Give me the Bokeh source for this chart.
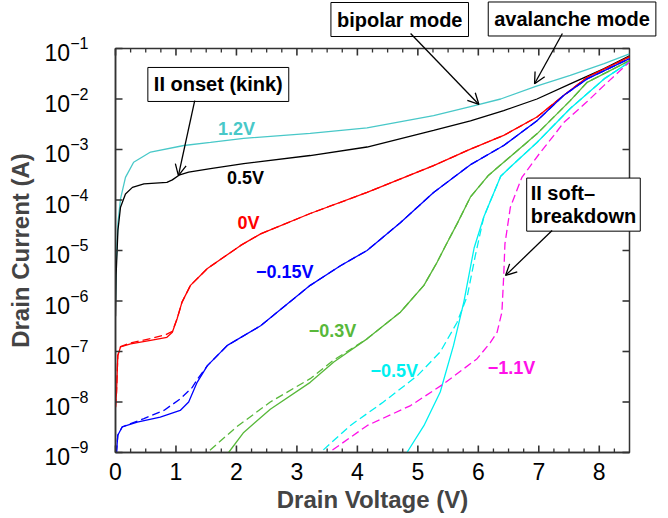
import math
from bokeh.plotting import figure
from bokeh.models import (Range1d, FixedTicker, SingleIntervalTicker, Label, Arrow, OpenHead)
from bokeh.embed import file_html
from bokeh.resources import INLINE

# ---------------- data (drain voltage V, drain current A) ----------------
# Vg = 1.2 V (solid)
vd_12 = [0.0, 0.01, 0.04, 0.083, 0.165, 0.30, 0.58, 1.13, 1.57, 2.12, 3.22, 4.16, 5.26, 5.87, 6.37, 6.95, 7.52, 8.08, 8.5]
id_12 = [1.0e-6, 4.7e-6, 3.4e-5, 1.05e-4, 2.8e-4, 5.6e-4, 8.9e-4, 1.2e-3, 1.38e-3, 1.66e-3, 2.09e-3, 2.69e-3, 4.68e-3, 7.1e-3, 1.0e-2, 1.78e-2, 2.95e-2, 5.0e-2, 7.8e-2]

# Vg = 0.5 V (solid)
vd_05 = [0.0, 0.01, 0.04, 0.083, 0.165, 0.28, 0.47, 0.85, 0.94, 1.05, 1.21, 1.57, 2.12, 3.22, 4.16, 5.26, 5.87, 6.42, 6.97, 7.52, 8.08, 8.5]
id_05 = [5.0e-7, 3.2e-6, 2.5e-5, 7.2e-5, 1.32e-4, 1.78e-4, 2.09e-4, 2.24e-4, 2.5e-4, 3.1e-4, 3.55e-4, 4.2e-4, 5.25e-4, 7.6e-4, 1.12e-3, 2.4e-3, 3.7e-3, 5.9e-3, 1.0e-2, 2.0e-2, 4.0e-2, 7.2e-2]

# Vg = 0 V (solid and dashed)
vd_00 = [0.0, 0.017, 0.038, 0.083, 0.25, 0.58, 0.85, 0.94, 1.02, 1.10, 1.24, 1.52, 2.07, 2.40, 3.22, 4.16, 5.26, 5.87, 6.42, 6.97, 7.41, 7.80, 8.5]
id_00 = [7.9e-9, 1.58e-8, 8.3e-8, 1.23e-7, 1.41e-7, 1.66e-7, 1.91e-7, 2.4e-7, 4.5e-7, 9.5e-7, 2.04e-6, 4.4e-6, 1.26e-5, 2.14e-5, 5.4e-5, 1.41e-4, 4.8e-4, 1.02e-3, 1.9e-3, 4.4e-3, 1.17e-2, 2.7e-2, 6.8e-2]
vd_00d = [0.0, 0.017, 0.038, 0.083, 0.25, 0.58, 0.83, 0.94, 1.02, 1.10, 1.24, 1.52, 2.07, 2.40, 3.22, 4.16, 5.26, 5.87, 6.42, 6.97, 7.41, 7.80, 8.5]
id_00d = [7.9e-9, 1.58e-8, 8.3e-8, 1.25e-7, 1.48e-7, 1.8e-7, 2.15e-7, 2.5e-7, 4.5e-7, 9.5e-7, 2.04e-6, 4.4e-6, 1.26e-5, 2.14e-5, 5.4e-5, 1.41e-4, 4.8e-4, 1.02e-3, 1.9e-3, 4.4e-3, 1.17e-2, 2.7e-2, 6.8e-2]

# Vg = -0.15 V
vd_m015 = [0.0, 0.017, 0.038, 0.11, 0.36, 0.74, 1.07, 1.21, 1.35, 1.52, 1.85, 2.40, 3.22, 3.72, 4.16, 4.71, 5.26, 5.87, 6.42, 6.97, 7.41, 7.80, 8.5]
id_m015 = [3.2e-10, 1.02e-9, 2.2e-9, 3.2e-9, 4.0e-9, 5.0e-9, 6.8e-9, 1.0e-8, 2.45e-8, 5.25e-8, 1.32e-7, 3.24e-7, 2.04e-6, 5.0e-6, 1.0e-5, 3.55e-5, 1.41e-4, 5.0e-4, 1.2e-3, 3.7e-3, 1.17e-2, 2.5e-2, 6.3e-2]
vd_m015d = [0.0, 0.017, 0.038, 0.11, 0.47, 0.80, 1.07, 1.27, 1.36, 1.52, 1.85, 2.40, 3.22, 3.72, 4.16, 4.71, 5.26, 5.87, 6.42, 6.97, 7.41, 7.80, 8.5]
id_m015d = [3.2e-10, 1.02e-9, 2.2e-9, 3.2e-9, 4.7e-9, 6.8e-9, 1.15e-8, 1.95e-8, 2.9e-8, 5.25e-8, 1.32e-7, 3.24e-7, 2.04e-6, 5.0e-6, 1.0e-5, 3.55e-5, 1.41e-4, 5.0e-4, 1.2e-3, 3.7e-3, 1.17e-2, 2.5e-2, 6.3e-2]

# Vg = -0.3 V
vd_m03 = [1.80, 1.87, 2.12, 2.56, 3.22, 3.61, 4.16, 4.71, 5.10, 5.32, 5.46, 5.65, 5.87, 6.17, 6.42, 6.97, 7.52, 7.80, 8.5]
id_m03 = [6.3e-10, 1.0e-9, 2.5e-9, 7.2e-9, 2.45e-8, 6.2e-8, 1.78e-7, 6.0e-7, 2.04e-6, 5.9e-6, 1.26e-5, 3.4e-5, 1.15e-4, 3.1e-4, 5.6e-4, 2.04e-3, 9.3e-3, 2.14e-2, 5.75e-2]
vd_m03d = [1.45, 1.52, 2.00, 2.56, 3.22, 3.61, 4.16, 4.71, 5.10, 5.32, 5.46, 5.65, 5.87, 6.17, 6.42, 6.97, 7.52, 7.80, 8.5]
id_m03d = [7.1e-10, 1.0e-9, 3.2e-9, 1.0e-8, 2.9e-8, 6.8e-8, 1.78e-7, 6.0e-7, 2.04e-6, 5.9e-6, 1.26e-5, 3.4e-5, 1.15e-4, 3.1e-4, 5.6e-4, 2.04e-3, 9.3e-3, 2.14e-2, 5.75e-2]

# Vg = -0.5 V
vd_m05 = [4.78, 4.82, 5.10, 5.37, 5.59, 5.76, 5.93, 6.09, 6.37, 6.53, 6.97, 7.52, 8.08, 8.5]
id_m05 = [7.9e-10, 1.0e-9, 3.4e-9, 1.58e-8, 1.32e-7, 9.5e-7, 1.12e-5, 4.6e-5, 2.95e-4, 4.5e-4, 1.38e-3, 6.5e-3, 2.5e-2, 5.4e-2]
vd_m05d = [3.30, 3.39, 3.88, 4.43, 4.99, 5.37, 5.65, 5.82, 5.95, 6.09, 6.37, 6.53, 6.97, 7.52, 8.08, 8.5]
id_m05d = [7.6e-10, 1.0e-9, 3.4e-9, 1.0e-8, 3.3e-8, 9.8e-8, 3.8e-7, 1.29e-6, 7.9e-6, 4.6e-5, 2.95e-4, 4.5e-4, 1.38e-3, 6.5e-3, 2.5e-2, 5.4e-2]

# Vg = -1.1 V (dashed only)
vd_m11d = [3.45, 3.53, 4.16, 4.88, 5.43, 5.98, 6.20, 6.31, 6.39, 6.42, 6.44, 6.53, 6.72, 7.03, 7.25, 7.41, 7.80, 8.08, 8.5]
id_m11d = [7.6e-10, 1.0e-9, 3.4e-9, 8.5e-9, 2.3e-8, 7.2e-8, 1.51e-7, 2.4e-7, 6.0e-7, 3.16e-6, 1.35e-5, 7.2e-5, 2.8e-4, 8.9e-4, 1.9e-3, 3.4e-3, 8.9e-3, 1.86e-2, 5.4e-2]

x_ticks = [0, 1, 2, 3, 4, 5, 6, 7, 8]
x_minor_ticks = [0.25, 0.5, 0.75, 1.25, 1.5, 1.75, 2.25, 2.5, 2.75, 3.25, 3.5, 3.75, 4.25, 4.5, 4.75,
                 5.25, 5.5, 5.75, 6.25, 6.5, 6.75, 7.25, 7.5, 7.75, 8.25]
y_ticks = [1e-9, 1e-8, 1e-7, 1e-6, 1e-5, 1e-4, 1e-3, 1e-2, 1e-1]

# ---------------- layout / styling ----------------
W, H = 668, 518
BL, BR, BT, BB = 115, 39, 48, 66          # borders around the plot frame
X0, X1 = 0.0, 8.5
Y0, Y1 = 1e-9, 1e-1
TICK, MTICK = 7, 4                        # inward tick lengths (px)

C_TEAL = "#48C8C8"
C_BLACK = "#000000"
C_RED = "#FF0000"
C_BLUE = "#0000FF"
C_GREEN = "#58B83A"
C_CYAN = "#00F0F0"
C_MAG = "#FF10E8"
FRAME = "#333333"
FONT = "Liberation Sans"
DASH = "8 4"
LW = 1.3

fw, fh = W - BL - BR, H - BT - BB
dx = (X1 - X0) / fw
ldy = (math.log10(Y1) - math.log10(Y0)) / fh

# ---------------- main figure: curves, tick labels, titles ----------------
p = figure(frame_width=fw, frame_height=fh, x_range=Range1d(X0, X1), y_range=Range1d(Y0, Y1),
           y_axis_type="log", output_backend="svg", toolbar_location=None,
           min_border_left=BL, min_border_right=BR, min_border_top=BT, min_border_bottom=BB)
p.xgrid.visible = False
p.ygrid.visible = False
p.outline_line_color = FRAME
p.outline_line_width = 1.5

xa = p.xaxis[0]
xa.ticker = SingleIntervalTicker(interval=1)
xa.major_tick_in = 0
xa.major_tick_out = 0
xa.minor_tick_line_color = None
xa.axis_line_color = FRAME
xa.axis_line_width = 1.5
xa.major_label_text_font = FONT
xa.major_label_text_font_size = "23px"
xa.major_label_text_color = "black"
xa.major_label_standoff = 6
xa.axis_label = "Drain Voltage (V)"
xa.axis_label_text_font = FONT
xa.axis_label_text_font_style = "bold"
xa.axis_label_text_font_size = "24px"
xa.axis_label_standoff = 3

ya = p.yaxis[0]
ya.ticker = FixedTicker(ticks=y_ticks, minor_ticks=[])
ya.major_tick_in = 0
ya.major_tick_out = 0
ya.minor_tick_line_color = None
ya.axis_line_color = FRAME
ya.axis_line_width = 1.5
ya.major_label_text_font = FONT
ya.major_label_text_font_size = "23px"
ya.major_label_text_color = "black"
ya.major_label_standoff = 27
ya.axis_label = "Drain Current (A)"
ya.axis_label_text_font = FONT
ya.axis_label_text_font_style = "bold"
ya.axis_label_text_font_size = "24px"
ya.axis_label_standoff = 8

p.line(vd_12, id_12, line_color=C_TEAL, line_width=LW)
p.line(vd_05, id_05, line_color=C_BLACK, line_width=LW)
p.line(vd_00, id_00, line_color=C_RED, line_width=LW)
p.line(vd_00d, id_00d, line_color=C_RED, line_width=LW, line_dash=DASH)
p.line(vd_m015, id_m015, line_color=C_BLUE, line_width=LW)
p.line(vd_m015d, id_m015d, line_color=C_BLUE, line_width=LW, line_dash=DASH)
p.line(vd_m03, id_m03, line_color=C_GREEN, line_width=LW)
p.line(vd_m03d, id_m03d, line_color=C_GREEN, line_width=LW, line_dash=DASH)
p.line(vd_m05, id_m05, line_color=C_CYAN, line_width=LW)
p.line(vd_m05d, id_m05d, line_color=C_CYAN, line_width=LW, line_dash=DASH)
p.line(vd_m11d, id_m11d, line_color=C_MAG, line_width=LW, line_dash=DASH)

# ---------------- overlay (same data mapping, frame = whole canvas): ticks + annotations ----------------
q = figure(width=W, height=H, output_backend="svg", toolbar_location=None,
           x_range=Range1d(X0 - BL * dx, X1 + BR * dx),
           y_range=Range1d(10 ** (math.log10(Y0) - BB * ldy), 10 ** (math.log10(Y1) + BT * ldy)),
           y_axis_type="log", x_axis_location=None, y_axis_location=None, min_border=0)
q.background_fill_color = None
q.border_fill_color = None
q.outline_line_color = None
q.grid.visible = False
q.styles = {"position": "absolute", "left": "0px", "top": "0px"}

def ly(v, px):
    return 10 ** (math.log10(v) + px * ldy)

# inward ticks on all four sides of the frame
for ticks, ln, wd in ((x_ticks, TICK, 1.6), (x_minor_ticks, MTICK, 1.3)):
    q.segment(x0=ticks, x1=ticks, y0=[Y0] * len(ticks), y1=[ly(Y0, ln)] * len(ticks),
              line_color=FRAME, line_width=wd)
    q.segment(x0=ticks, x1=ticks, y0=[Y1] * len(ticks), y1=[ly(Y1, -ln)] * len(ticks),
              line_color=FRAME, line_width=wd)
q.segment(x0=[X0] * len(y_ticks), x1=[X0 + TICK * dx] * len(y_ticks), y0=y_ticks, y1=y_ticks,
          line_color=FRAME, line_width=1.6)
q.segment(x0=[X1] * len(y_ticks), x1=[X1 - TICK * dx] * len(y_ticks), y0=y_ticks, y1=y_ticks,
          line_color=FRAME, line_width=1.6)

def curve_label(x, y, text, color):
    q.add_layout(Label(x=x, y=y, text=text, text_color=color, text_font=FONT,
                       text_font_style="bold", text_font_size="18px",
                       text_align="center", text_baseline="middle"))

curve_label(2.00, 2.6e-3, "1.2V", C_TEAL)
curve_label(2.15, 2.67e-4, "0.5V", C_BLACK)
curve_label(2.20, 3.43e-5, "0V", C_RED)
curve_label(2.80, 3.75e-6, "\u22120.15V", C_BLUE)
curve_label(3.59, 2.6e-7, "\u22120.3V", C_GREEN)
curve_label(4.61, 4.2e-8, "\u22120.5V", C_CYAN)
curve_label(6.55, 4.8e-8, "\u22121.1V", C_MAG)

def box_label(x, y, text, align="center", pad=6, lh=1.2):
    q.add_layout(Label(x=x, y=y, text=text, text_color="black", text_font=FONT,
                       text_font_style="bold", text_font_size="20px",
                       text_align=align, text_baseline="middle", text_line_height=lh,
                       border_line_color="black", border_line_width=1,
                       background_fill_color="white", padding=pad))

box_label(1.70, 1.94e-2, "II onset (kink)")
box_label(4.70, 0.375, "bipolar mode")
box_label(7.55, 0.384, "avalanche mode")
box_label(6.80, 8.1e-5, "II soft\u2013\nbreakdown", align="left", pad=4, lh=1.05)

def arrow(x0, y0, x1, y1):
    q.add_layout(Arrow(x_start=x0, y_start=y0, x_end=x1, y_end=y1,
                       line_color="black", line_width=1.3,
                       end=OpenHead(size=11, line_color="black", line_width=1.3)))

arrow(1.31, 9.3e-3, 1.04, 3.05e-4)
arrow(4.88, 0.198, 6.01, 7.8e-3)
arrow(7.39, 0.198, 6.93, 2.0e-2)
arrow(7.22, 2.49e-5, 6.45, 3.2e-6)

open("out.html", "w").write(file_html((p, q), INLINE))
